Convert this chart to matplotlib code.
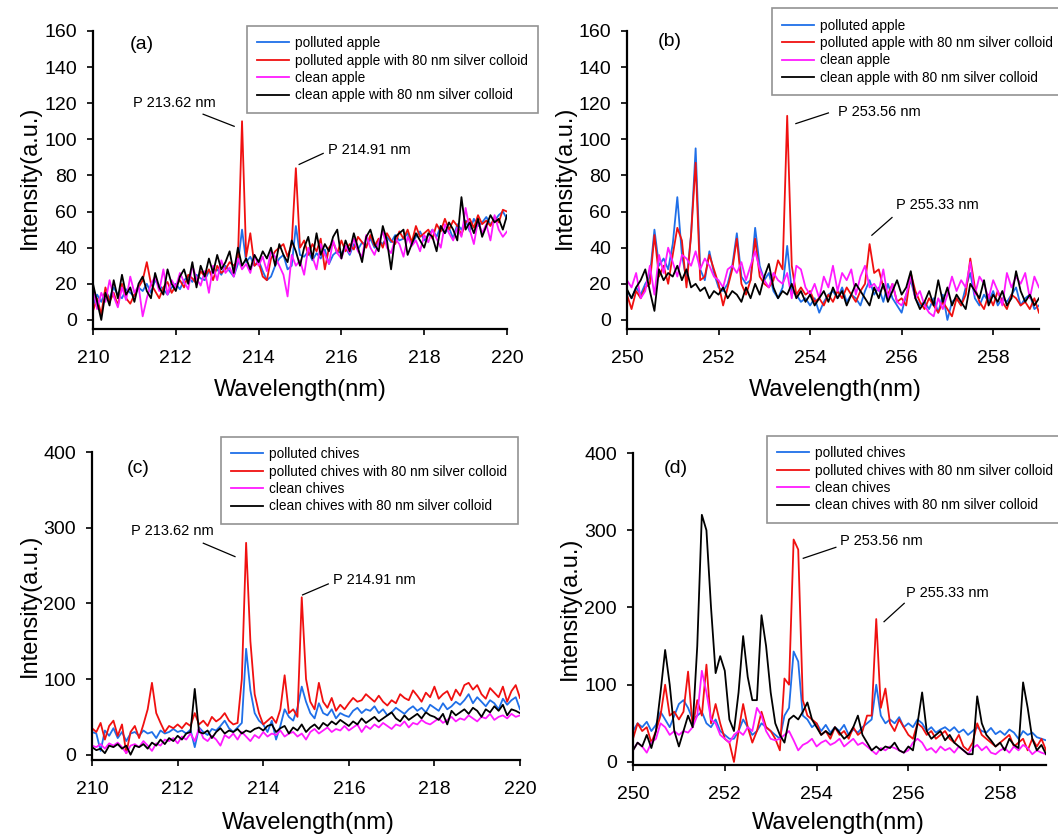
"""Four-panel LIBS spectra: apple / chives, with and without 80 nm silver colloid."""

import matplotlib
matplotlib.use("Agg")
import matplotlib.pyplot as plt
import numpy as np

plt.rcParams.update({
    "font.family": ["Liberation Sans", "DejaVu Sans"],
    "axes.spines.top": False,
    "axes.spines.right": False,
    "axes.linewidth": 1.6,
    "xtick.major.width": 1.2,
    "ytick.major.width": 1.2,
    "xtick.major.size": 4,
    "ytick.major.size": 4,
    "xtick.major.pad": 11,
    "ytick.major.pad": 7.5,
    "xtick.labelsize": 14,
    "ytick.labelsize": 14,
})

C_BLUE = "#1f6fe8"
C_RED = "#f01010"
C_PINK = "#ff1aff"
C_BLACK = "#000000"
COLORS = [C_BLUE, C_RED, C_PINK, C_BLACK]

# wavelength grids (nm), 0.1 nm step
WL_AC = np.linspace(210, 220, 101)
WL_BD = np.linspace(250, 259, 91)

APPLE_LABELS = ["polluted apple", "polluted apple with 80 nm silver colloid",
                "clean apple", "clean apple with 80 nm silver colloid"]
CHIVES_LABELS = ["polluted chives", "polluted chives with 80 nm silver colloid",
                 "clean chives", "clean chives with 80 nm silver colloid"]

# ----- (a) apple, 210-220 nm
A_POLLUTED = [8, 14, 10, 16, 12, 18, 14, 12, 17, 15,
              13, 18, 16, 20, 15, 22, 19, 17, 14, 18,
              20, 17, 22, 24, 21, 25, 23, 22, 27, 26,
              28, 25, 30, 27, 24, 31, 50, 32, 35, 30,
              33, 27, 22, 24, 30, 34, 36, 28, 30, 52,
              36, 35, 38, 33, 37, 34, 39, 31, 36, 38,
              37, 40, 36, 42, 39, 43, 41, 45, 40, 44,
              42, 46, 43, 47, 44, 45, 48, 42, 46, 49,
              44, 47, 50, 46, 52, 48, 51, 45, 53, 50,
              55, 49, 56, 52, 54, 57, 53, 55, 58, 60,
              56]
A_POLLUTED_AG = [5, 12, 3, 18, 10, 15, 8, 20, 12, 9,
                 14, 18, 22, 32, 20, 16, 12, 18, 21, 15,
                 19, 22, 18, 25, 23, 20, 27, 24, 28, 22,
                 30, 26, 28, 32, 30, 33, 110, 35, 48, 30,
                 32, 24, 22, 34, 38, 40, 42, 35, 42, 84,
                 40, 44, 36, 42, 38, 45, 28, 40, 43, 37,
                 44, 38, 42, 39, 46, 43, 40, 47, 41, 45,
                 40, 48, 44, 42, 49, 45, 50, 43, 52, 46,
                 48, 50, 45, 53, 49, 56, 50, 55, 52, 47,
                 54, 56, 51, 58, 53, 55, 52, 57, 54, 61,
                 60]
A_CLEAN = [18, 6, 15, 10, 22, 13, 7, 18, 11, 24,
           15, 19, 2, 12, 20, 24, 16, 28, 14, 22,
           18, 26, 21, 17, 30, 23, 19, 27, 15, 30,
           22, 33, 26, 29, 24, 34, 28, 31, 26, 36,
           30, 35, 27, 38, 35, 30, 25, 13, 36, 30,
           33, 25, 40, 35, 28, 42, 36, 31, 44, 37,
           34, 41, 37, 45, 38, 35, 47, 40, 36, 43,
           49, 40, 37, 45, 42, 35, 46, 41, 44, 38,
           47, 43, 50, 45, 40, 53, 48, 44, 51, 46,
           62, 50, 42, 55, 48, 53, 44, 58, 50, 46,
           49]
A_CLEAN_AG = [20, 10, 0, 15, 8, 22, 12, 25, 14, 18,
              10, 20, 24, 16, 12, 26, 18, 14, 28, 20,
              16, 24, 28, 20, 32, 18, 30, 24, 34, 26,
              36, 28, 32, 38, 26, 40, 30, 34, 28, 36,
              32, 38, 34, 40, 30, 42, 36, 32, 44, 38,
              30, 40, 46, 34, 48, 36, 42, 38, 46, 50,
              34, 44, 38, 48, 40, 32, 46, 50, 42, 38,
              52, 44, 28, 46, 48, 50, 36, 42, 48, 44,
              40, 48, 46, 38, 52, 48, 54, 50, 44, 68,
              50, 54, 48, 56, 46, 52, 58, 54, 56, 50,
              58]

# ----- (b) apple, 250-259 nm
B_POLLUTED = [16, 12, 18, 14, 20, 24, 50, 30, 34, 28,
              42, 68, 36, 22, 47, 95, 28, 22, 38, 26,
              18, 16, 20, 30, 48, 24, 20, 22, 51, 30,
              22, 26, 16, 12, 18, 41, 16, 14, 10, 12,
              8, 12, 4, 10, 14, 16, 12, 18, 10, 14,
              12, 8, 16, 22, 14, 18, 10, 20, 12, 8,
              4, 14, 22, 12, 8, 10, 6, 12, 4, 14,
              0, 10, 12, 8, 18, 26, 12, 8, 14, 10,
              16, 8, 12, 10, 14, 18, 8, 12, 14, 6,
              8]
B_POLLUTED_AG = [14, 6, 16, 12, 18, 20, 47, 24, 30, 20,
                 36, 51, 44, 18, 47, 87, 22, 24, 36, 28,
                 20, 8, 18, 28, 45, 20, 14, 22, 45, 24,
                 20, 18, 22, 33, 28, 113, 30, 14, 18, 14,
                 16, 10, 12, 8, 14, 10, 16, 12, 18, 14,
                 10, 16, 20, 42, 26, 28, 18, 14, 20, 10,
                 12, 8, 26, 16, 10, 6, 12, 8, 4, 10,
                 6, 2, 12, 8, 14, 34, 18, 10, 6, 14,
                 8, 16, 10, 6, 14, 12, 8, 10, 6, 12,
                 4]
B_CLEAN = [22, 18, 26, 12, 16, 30, 14, 36, 26, 40,
           32, 24, 36, 34, 30, 38, 28, 34, 30, 24,
           22, 18, 28, 30, 26, 32, 22, 30, 38, 28,
           22, 18, 26, 22, 20, 26, 12, 30, 28, 18,
           14, 20, 12, 24, 18, 30, 16, 26, 22, 28,
           14, 24, 30, 18, 20, 16, 28, 12, 20, 10,
           8, 14, 24, 12, 16, 8, 4, 2, 12, 6,
           14, 24, 16, 22, 18, 32, 14, 24, 20, 12,
           22, 16, 8, 26, 18, 24, 20, 26, 12, 24,
           18]
B_CLEAN_AG = [17, 12, 18, 22, 28, 16, 5, 28, 22, 26,
              24, 30, 22, 28, 18, 20, 16, 18, 12, 16,
              14, 18, 12, 16, 14, 10, 18, 12, 20, 14,
              24, 31, 18, 12, 16, 14, 20, 12, 16, 10,
              14, 8, 12, 16, 10, 18, 12, 16, 8, 14,
              20, 16, 12, 8, 18, 12, 20, 10, 16, 22,
              14, 18, 27, 12, 6, 10, 16, 8, 22, 10,
              18, 8, 14, 10, 6, 20, 16, 12, 22, 8,
              14, 10, 16, 8, 12, 27, 16, 10, 14, 8,
              12]

# ----- (c) chives, 210-220 nm
C_POLLUTED = [30, 28, 5, 32, 25, 35, 22, 30, 18, 28,
              30, 25, 32, 28, 30, 22, 32, 28, 30, 34,
              30, 32, 28, 33, 10, 36, 30, 26, 34, 32,
              38, 45, 35, 30, 36, 42, 140, 85, 55, 45,
              40, 30, 45, 20, 38, 60, 50, 45, 62, 90,
              70, 55, 48, 68, 55, 52, 60, 48, 55, 52,
              50, 58, 62, 55, 60, 58, 64, 55, 60, 52,
              56, 62, 58, 54, 60, 64, 58, 62, 56, 66,
              62, 58, 68, 60, 64, 70, 66, 72, 80, 68,
              76, 70, 64, 72, 68, 60, 74, 66, 72, 76,
              60]
C_POLLUTED_AG = [35, 30, 42, 20, 38, 45, 25, 40, 2, 30,
                 38, 22, 40, 60, 95, 55, 42, 30, 38, 35,
                 40, 35, 42, 38, 55, 40, 45, 38, 50, 44,
                 48, 55, 45, 40, 42, 100, 280, 150, 80, 55,
                 40, 45, 50, 42, 60, 105, 55, 60, 50, 208,
                 100, 70, 60, 95, 70, 62, 75, 58, 66, 60,
                 68, 75, 70, 72, 80, 75, 70, 78, 70, 65,
                 72, 68, 80, 75, 72, 85, 78, 70, 82, 76,
                 90, 74, 80, 84, 72, 86, 78, 92, 95, 86,
                 92, 80, 74, 88, 82, 76, 90, 70, 84, 92,
                 75]
C_CLEAN = [12, 10, 14, 8, 15, 12, 16, 10, 2, 12,
           14, 10, 18, 12, 5, 15, 12, 20, 18, 22,
           15, 24, 20, 28, 18, 35, 22, 18, 25, 20,
           12, 26, 22, 28, 20, 30, 24, 18, 26, 22,
           30, 24, 28, 26, 32, 24, 28, 30, 24, 28,
           20, 30, 34, 28, 32, 36, 30, 34, 32, 38,
           32, 36, 40, 30, 38, 34, 40, 36, 42, 38,
           34, 40, 38, 44, 36, 42, 40, 46, 42, 40,
           44, 48, 42, 46, 50, 44, 48, 46, 52, 48,
           44, 50, 48, 54, 46, 50, 52, 48, 54, 50,
           52]
C_CLEAN_AG = [10, 6, 8, 2, 12, 10, 14, 8, 12, 0,
              12, 10, 14, 8, 16, 12, 20, 14, 22, 18,
              25, 20, 28, 30, 87, 30, 28, 32, 22, 30,
              35, 28, 32, 30, 34, 28, 32, 30, 34, 36,
              32, 38, 40, 30, 35, 38, 28, 36, 32, 40,
              30, 36, 40, 34, 42, 38, 44, 40, 46, 42,
              38, 44, 40, 48, 42, 46, 50, 44, 48, 52,
              56, 48, 44, 52, 46, 50, 54, 48, 56, 52,
              50, 46, 54, 40, 58, 52, 56, 60, 54, 62,
              58, 50, 60, 56, 64, 58, 66, 52, 60, 58,
              55]

# ----- (d) chives, 250-259 nm
D_POLLUTED = [40, 50, 45, 52, 40, 48, 65, 55, 45, 60,
              75, 80, 70, 55, 60, 65, 50, 45, 55, 40,
              35, 30, 30, 40, 55, 45, 35, 40, 50, 45,
              40, 35, 30, 60, 70, 143, 130, 60, 55, 45,
              50, 40, 48, 38, 45, 40, 48, 35, 42, 38,
              45, 50, 55, 100, 60, 50, 55, 50, 58, 45,
              50, 45, 55, 50, 40, 45, 38, 42, 45, 40,
              45, 38, 42, 35, 40, 45, 40, 38, 44, 36,
              40, 35, 42, 38, 30, 40, 35, 38, 32, 30,
              28]
D_POLLUTED_AG = [30, 50, 40, 45, 25, 40, 60, 100, 60, 65,
                 55, 65, 117, 45, 80, 60, 126, 50, 75, 50,
                 30, 25, 0, 40, 75, 45, 25, 40, 65, 45,
                 40, 30, 15, 108, 100, 288, 275, 80, 60, 55,
                 50, 35, 40, 30, 45, 35, 40, 30, 45, 35,
                 40, 60, 60, 185, 70, 95, 50, 40, 55, 45,
                 35, 30, 50, 45, 35, 40, 30, 35, 40, 30,
                 25, 35, 20, 15, 25, 50, 35, 30, 25, 20,
                 25, 30, 35, 20, 25, 30, 15, 30, 20, 30,
                 15]
D_CLEAN = [15, 25, 20, 12, 25, 30, 50, 45, 35, 40,
           35, 40, 38, 45, 60, 118, 90, 55, 50, 35,
           30, 25, 35, 40, 35, 45, 40, 70, 60, 40,
           30, 28, 30, 35, 40, 28, 15, 22, 25, 30,
           20, 25, 28, 22, 25, 30, 20, 25, 30, 22,
           25, 20, 15, 10, 18, 15, 20, 18, 15, 12,
           15, 25, 30, 25, 15, 18, 12, 20, 15, 18,
           12, 20, 15, 10, 18, 22, 15, 20, 12, 10,
           15, 18, 12, 20, 15, 22, 18, 10, 15, 12,
           10]
D_CLEAN_AG = [15, 25, 20, 35, 18, 40, 90, 145, 100, 40,
              20, 40, 60, 45, 150, 320, 300, 200, 115, 137,
              118, 55, 40, 90, 163, 110, 80, 80, 190, 150,
              90, 50, 35, 25, 55, 60, 55, 65, 77, 55,
              45, 35, 40, 35, 45, 38, 30, 35, 45, 60,
              35, 25, 15, 20, 15, 20, 18, 25, 15, 12,
              20, 15, 50, 90, 40, 30, 35, 40, 28, 35,
              25, 20, 15, 10, 10, 85, 50, 35, 28, 20,
              25, 15, 30, 22, 18, 103, 70, 30, 15, 22,
              10]


def draw_panel(fig, rect, wl, series, labels, xlim, ylim, yticks, tag,
               tag_xy, notes, legend_xy, xlabel_xy, ylabel_xy):
    ax = fig.add_axes(rect)
    for ys, lab, col in zip(series, labels, COLORS):
        ax.plot(wl, ys, color=col, lw=1.3, label=lab)
    ax.set_xlim(*xlim)
    ax.set_ylim(*ylim)
    ax.set_yticks(yticks)
    ax.set_xticks(np.arange(xlim[0], xlim[1] + 0.01, 2)[:6])
    ax.tick_params(direction="out")

    ax.set_xlabel("Wavelength(nm)", fontsize=17)
    ax.set_ylabel("Intensity(a.u.)", fontsize=17)
    ax.xaxis.set_label_coords(*xlabel_xy)
    ax.yaxis.set_label_coords(*ylabel_xy)
    ax.xaxis.label.set_va("center")
    ax.yaxis.label.set_va("center")

    ax.text(tag_xy[0], tag_xy[1], tag, transform=ax.transAxes,
            fontsize=14, ha="left", va="center")

    # peak call-outs: text plus a thin leader line
    for txt, txy, p0, p1 in notes:
        ax.text(txy[0], txy[1], txt, fontsize=10.5, ha="left", va="center")
        ax.plot([p0[0], p1[0]], [p0[1], p1[1]], color="black", lw=0.9)

    leg = ax.legend(loc="upper left", bbox_to_anchor=legend_xy,
                    bbox_transform=fig.transFigure, fontsize=9.8,
                    frameon=True, fancybox=False, handlelength=2.35,
                    handletextpad=0.45, labelspacing=0.25, borderpad=0.75,
                    borderaxespad=0)
    leg.get_frame().set_edgecolor("#777777")
    leg.get_frame().set_linewidth(1.2)
    return ax


fig = plt.figure(figsize=(10.58, 8.36), dpi=100)

draw_panel(fig, [0.0879, 0.6065, 0.3913, 0.3565], WL_AC,
           [A_POLLUTED, A_POLLUTED_AG, A_CLEAN, A_CLEAN_AG], APPLE_LABELS,
           (210, 220), (-5, 160), range(0, 161, 20), "(a)", (0.089, 0.953),
           [("P 213.62 nm", (210.97, 120), (212.66, 113.9), (213.41, 107.2)),
            ("P 214.91 nm", (215.68, 94), (214.98, 86.1), (215.56, 92.2))],
           (0.2335, 0.969), (0.5, -0.205), (-0.152, 0.508))

draw_panel(fig, [0.5926, 0.6065, 0.3894, 0.3565], WL_BD,
           [B_POLLUTED, B_POLLUTED_AG, B_CLEAN, B_CLEAN_AG], APPLE_LABELS,
           (250, 259), (-5, 160), range(0, 161, 20), "(b)", (0.075, 0.964),
           [("P 253.56 nm", (254.61, 115.3), (253.69, 108.7), (254.40, 114.6)),
            ("P 255.33 nm", (255.88, 63.6), (255.35, 46.9), (255.79, 56.7))],
           (0.7297, 0.990), (0.505, -0.205), (-0.15, 0.508))

draw_panel(fig, [0.087, 0.0909, 0.4045, 0.3684], WL_AC,
           [C_POLLUTED, C_POLLUTED_AG, C_CLEAN, C_CLEAN_AG], CHIVES_LABELS,
           (210, 220), (-7, 400), range(0, 401, 100), "(c)", (0.081, 0.948),
           [("P 213.62 nm", (210.90, 295.7), (212.60, 279.5), (213.34, 261.8)),
            ("P 214.91 nm", (215.64, 231), (214.92, 211.2), (215.52, 225.7))],
           (0.2089, 0.4773), (0.505, -0.2045), (-0.145, 0.503))

draw_panel(fig, [0.5983, 0.0849, 0.3904, 0.3732], WL_BD,
           [D_POLLUTED, D_POLLUTED_AG, D_CLEAN, D_CLEAN_AG], CHIVES_LABELS,
           (250, 259), (-4, 400), range(0, 401, 100), "(d)", (0.075, 0.952),
           [("P 253.56 nm", (254.51, 286.5), (253.71, 263.7), (254.42, 277.9)),
            ("P 255.33 nm", (255.95, 218.4), (255.47, 181.6), (255.91, 205.4))],
           (0.7250, 0.4785), (0.496, -0.186), (-0.153, 0.503))

fig.savefig("out.png", dpi=100)
